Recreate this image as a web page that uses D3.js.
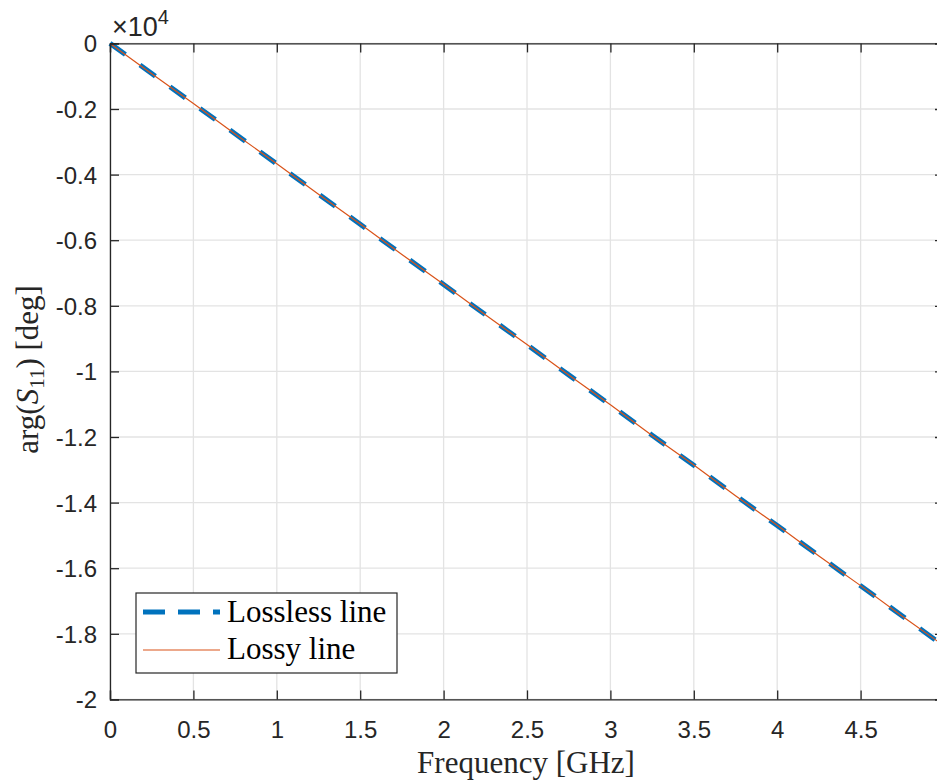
<!DOCTYPE html>
<html>
<head>
<meta charset="utf-8">
<script src="https://cdn.jsdelivr.net/npm/d3@7"></script>
<style>
html,body{margin:0;padding:0;background:#fff;overflow:hidden;}
svg{display:block;}
</style>
</head>
<body>
<svg id="chart" width="937" height="783"></svg>
<script>
// ---- data ----
const freqGHz = [0,0.25,0.5,0.75,1,1.25,1.5,1.75,2,2.25,2.5,2.75,3,3.25,3.5,3.75,4,4.25,4.5,4.75,5];
const losslessDeg = [0,-919,-1838,-2756,-3675,-4594,-5513,-6431,-7350,-8269,-9188,-10106,-11025,-11944,-12863,-13781,-14700,-15619,-16538,-17456,-18375];
const lossyDeg = [0,-925,-1830,-2762,-3668,-4600,-5505,-6438,-7343,-8276,-9180,-10113,-11018,-11951,-12856,-13788,-14693,-15626,-16531,-17463,-18368];
const xTicks = [0,0.5,1,1.5,2,2.5,3,3.5,4,4.5,5];
const yTicks = [0,-0.2,-0.4,-0.6,-0.8,-1,-1.2,-1.4,-1.6,-1.8,-2];
const seriesNames = ["Lossless line","Lossy line"];

const svg = d3.select("#chart");
const L = 110, T = 43.4, R = 944, B = 699.4;
const x = d3.scaleLinear().domain([0,5]).range([L,R]);
const y = d3.scaleLinear().domain([-2,0]).range([B,T]); // in units of 1e4
const axisCol = "#262626";
const tickFont = "'Liberation Sans', Arial, sans-serif";
const serif = "'Liberation Serif', 'Times New Roman', serif";
const fmt = d => d3.format("~g")(d).replace("\u2212","-");

// grid
const grid = svg.append("g");
xTicks.forEach(t=>{
  grid.append("line").attr("x1",x(t)).attr("x2",x(t)).attr("y1",T).attr("y2",B)
    .attr("stroke","#e3e3e3").attr("stroke-width",1.3);
});
yTicks.forEach(t=>{
  grid.append("line").attr("x1",L).attr("x2",R).attr("y1",y(t)).attr("y2",y(t))
    .attr("stroke","#e3e3e3").attr("stroke-width",1.3);
});

// lines
const line = d3.line().x((d,i)=>x(freqGHz[i])).y(d=>y(d/1e4));
svg.append("path").datum(losslessDeg).attr("d",line)
  .attr("fill","none").attr("stroke","#0072BD").attr("stroke-width",5)
  .attr("stroke-dasharray","19,18");
svg.append("path").datum(lossyDeg).attr("d",line)
  .attr("fill","none").attr("stroke","#D95319").attr("stroke-width",1.2);

// axes
const gx = svg.append("g").attr("transform",`translate(0,${B})`)
  .call(d3.axisBottom(x).tickValues(xTicks.filter(t=>t<5)).tickSize(-9).tickFormat(fmt));
const gxt = svg.append("g").attr("transform",`translate(0,${T})`)
  .call(d3.axisTop(x).tickValues(xTicks).tickSize(-9).tickFormat(""));
const gy = svg.append("g").attr("transform",`translate(${L},0)`)
  .call(d3.axisLeft(y).tickValues(yTicks).tickSize(-9).tickFormat(fmt));
const gyr = svg.append("g").attr("transform",`translate(${R},0)`)
  .call(d3.axisRight(y).tickValues(yTicks).tickSize(-9).tickFormat(""));
[gx,gxt,gy,gyr].forEach(g=>{
  g.select(".domain").attr("stroke",axisCol).attr("stroke-width",1.3);
  g.selectAll(".tick line").attr("stroke",axisCol).attr("stroke-width",1.3);
  g.selectAll(".tick text").attr("fill",axisCol).attr("font-family",tickFont).attr("font-size",24)
    .style("font-family",tickFont).style("font-size","24px");
});
gx.selectAll(".tick text").attr("dy",null).attr("y",39);
gy.selectAll(".tick text").attr("x",-13).attr("dy","0.35em");

// exponent
const ex = svg.append("text").attr("x",112).attr("y",36).attr("fill",axisCol)
  .attr("font-family",tickFont).attr("font-size",27)
  .style("font-family",tickFont).style("font-size","27px");
ex.append("tspan").text("×10");
ex.append("tspan").attr("dy",-12).attr("font-size",20).style("font-size","20px").text("4");

// axis labels
svg.append("text").attr("x",526).attr("y",773).attr("text-anchor","middle")
  .style("font-family",serif).style("font-size","31px").attr("fill",axisCol)
  .text("Frequency [GHz]");
const yl = svg.append("text").attr("transform",`translate(38,${(T+B)/2 - 2}) rotate(-90)`)
  .attr("text-anchor","middle").style("font-family",serif).style("font-size","31px").attr("fill",axisCol);
yl.append("tspan").text("arg(");
yl.append("tspan").style("font-style","italic").text("S");
yl.append("tspan").attr("dy",6).style("font-size","21px").text("11");
yl.append("tspan").attr("dy",-6).text(")  [deg]");

// legend
const lg = svg.append("g");
lg.append("rect").attr("x",136).attr("y",593).attr("width",261).attr("height",80)
  .attr("fill","#fff").attr("stroke","#262626").attr("stroke-width",1.2);
lg.append("line").attr("x1",143).attr("x2",220).attr("y1",612).attr("y2",612)
  .attr("stroke","#0072BD").attr("stroke-width",5).attr("stroke-dasharray","22,13");
lg.append("line").attr("x1",143).attr("x2",220).attr("y1",650).attr("y2",650)
  .attr("stroke","#D95319").attr("stroke-width",1.2);
lg.append("text").attr("x",227).attr("y",622).style("font-family",serif).style("font-size","31px")
  .attr("fill","#000").text(seriesNames[0]);
lg.append("text").attr("x",227).attr("y",659).style("font-family",serif).style("font-size","31px")
  .attr("fill","#000").text(seriesNames[1]);
</script>
</body>
</html>
